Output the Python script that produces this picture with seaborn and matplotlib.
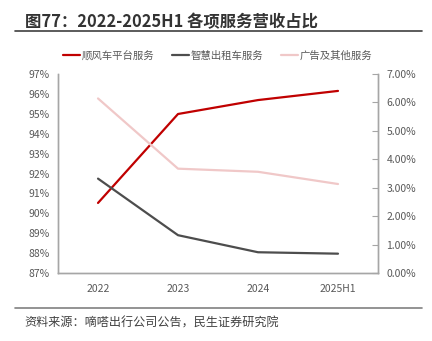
import matplotlib
matplotlib.use("Agg")
import matplotlib.pyplot as plt
from matplotlib.lines import Line2D
from matplotlib.ticker import FuncFormatter
import seaborn as sns
import pandas as pd

sns.set_style("white")
plt.rcParams['font.family'] = ['Noto Sans CJK SC', 'DejaVu Sans']

periods = ["2022", "2023", "2024", "2025H1"]
carpool = [90.52, 94.99, 95.69, 96.15]      # 顺风车平台服务 (left axis, %)
taxi = [3.32, 1.33, 0.73, 0.68]             # 智慧出租车服务 (right axis, %)
ads_other = [6.14, 3.67, 3.56, 3.13]        # 广告及其他服务 (right axis, %)

names = ["顺风车平台服务", "智慧出租车服务", "广告及其他服务"]
colors = ["#C00000", "#4D4D4D", "#F0C8C8"]

df = pd.DataFrame({"period": periods, "carpool": carpool,
                   "taxi": taxi, "ads": ads_other})

fig = plt.figure(figsize=(4.32, 3.41), dpi=100)
ax = fig.add_axes([0.1343, 0.1994, 0.7407, 0.5836])
ax2 = ax.twinx()

sns.lineplot(data=df, x="period", y="carpool", ax=ax, color=colors[0], linewidth=1.6)
sns.lineplot(data=df, x="period", y="taxi", ax=ax2, color=colors[1], linewidth=1.6)
sns.lineplot(data=df, x="period", y="ads", ax=ax2, color=colors[2], linewidth=1.6)

ax.set_xlim(-0.5, 3.5)
ax.set_ylim(87, 97)
ax.set_yticks(range(87, 98))
ax.yaxis.set_major_formatter(FuncFormatter(lambda v, p: f"{v:.0f}%"))
ax2.set_ylim(0, 7)
ax2.set_yticks(range(0, 8))
ax2.yaxis.set_major_formatter(FuncFormatter(lambda v, p: f"{v:.2f}%"))

for a in (ax, ax2):
    a.set_xlabel("")
    a.set_ylabel("")
    a.spines["top"].set_visible(False)
    for s in ("left", "right", "bottom"):
        a.spines[s].set_color("#A6A6A6")
        a.spines[s].set_linewidth(1.0)
    a.tick_params(labelsize=7.5, labelcolor="#595959", colors="#595959")

ax.tick_params(axis="y", length=0, pad=6)
ax.tick_params(axis="x", length=0, pad=8)
ax2.tick_params(axis="y", direction="in", length=4, color="#A6A6A6", pad=6)

handles = [Line2D([0], [0], color=c, linewidth=1.6) for c in colors]
fig.legend(handles, names, loc="center", bbox_to_anchor=(0.503, 0.838), ncol=3,
           frameon=False, fontsize=7.5, handlelength=1.7, handletextpad=0.1,
           columnspacing=1.7, labelcolor="#595959")

fig.text(0.058, 0.935, "图77：2022-2025H1 各项服务营收占比", fontsize=11.8,
         fontweight="bold", color="#333333", va="center", ha="left")
fig.add_artist(Line2D([0.035, 0.977], [0.909, 0.909], color="#404040", linewidth=1.2))
fig.add_artist(Line2D([0.035, 0.977], [0.097, 0.097], color="#808080", linewidth=1.2))
fig.text(0.056, 0.053, "资料来源：嘀嗒出行公司公告，民生证券研究院", fontsize=8.7,
         color="#404040", va="center", ha="left")

fig.savefig("out.png", dpi=100)
